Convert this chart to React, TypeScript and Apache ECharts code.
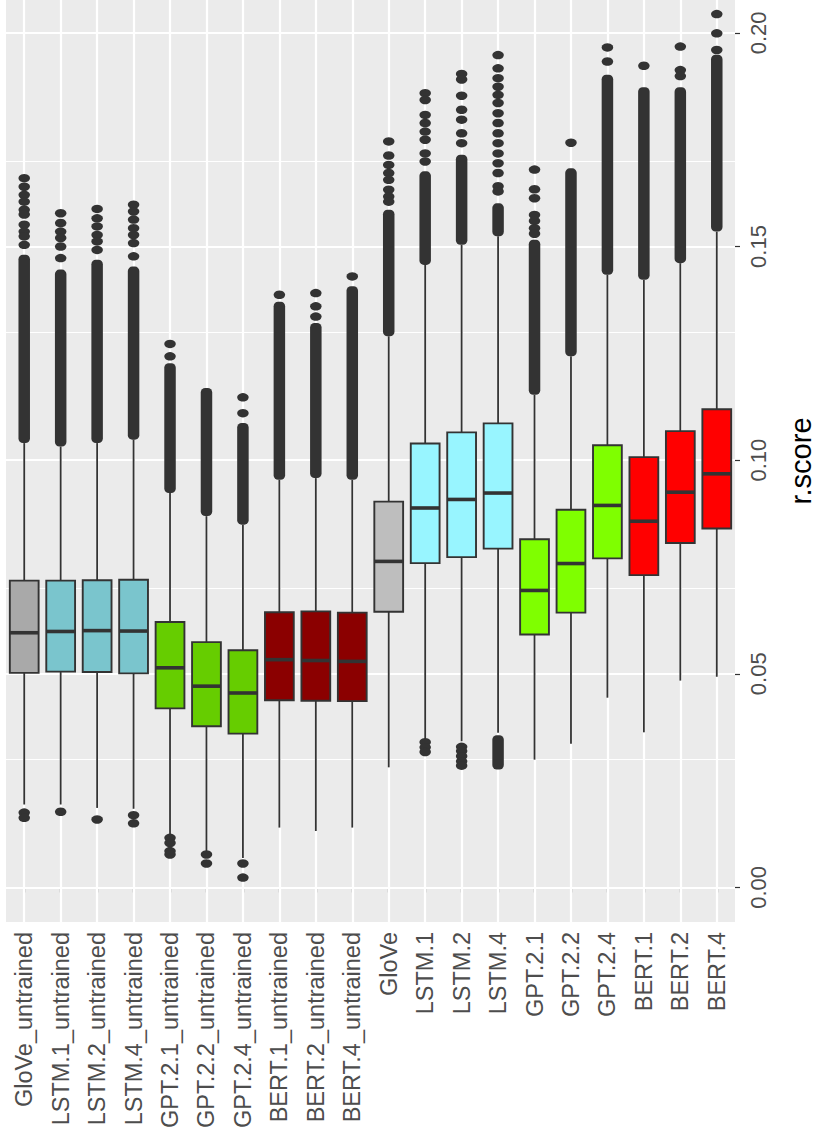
import React, { useEffect, useRef } from "react";
import * as echarts from "echarts";

// Models, in plotting order
const categories = [
  "GloVe_untrained", "LSTM.1_untrained", "LSTM.2_untrained", "LSTM.4_untrained",
  "GPT.2.1_untrained", "GPT.2.2_untrained", "GPT.2.4_untrained",
  "BERT.1_untrained", "BERT.2_untrained", "BERT.4_untrained",
  "GloVe", "LSTM.1", "LSTM.2", "LSTM.4", "GPT.2.1", "GPT.2.2", "GPT.2.4",
  "BERT.1", "BERT.2", "BERT.4",
];

// Box fill per model
const boxColors = [
  "#A9A9A9", "#7AC5CD", "#7AC5CD", "#7AC5CD",
  "#66CD00", "#66CD00", "#66CD00",
  "#8B0000", "#8B0000", "#8B0000",
  "#BEBEBE", "#98F5FF", "#98F5FF", "#98F5FF",
  "#7FFF00", "#7FFF00", "#7FFF00",
  "#FF0000", "#FF0000", "#FF0000",
];

// Five-number summaries of r.score
const whiskerLow = [0.0194, 0.0194, 0.0186, 0.0184, 0.0124, 0.0085, 0.0069, 0.0140, 0.0132, 0.0140, 0.0281, 0.0346, 0.0342, 0.0362, 0.0299, 0.0336, 0.0444, 0.0363, 0.0484, 0.0493];
const q1 = [0.0502, 0.0505, 0.0504, 0.0501, 0.0419, 0.0377, 0.0360, 0.0438, 0.0437, 0.0436, 0.0645, 0.0759, 0.0773, 0.0793, 0.0592, 0.0643, 0.0770, 0.0731, 0.0806, 0.0840];
const median = [0.0596, 0.0599, 0.0601, 0.0600, 0.0514, 0.0471, 0.0455, 0.0533, 0.0531, 0.0529, 0.0763, 0.0888, 0.0908, 0.0923, 0.0695, 0.0758, 0.0894, 0.0857, 0.0925, 0.0968];
const q3 = [0.0718, 0.0718, 0.0719, 0.0720, 0.0621, 0.0574, 0.0555, 0.0644, 0.0646, 0.0643, 0.0903, 0.1039, 0.1065, 0.1086, 0.0815, 0.0884, 0.1035, 0.1007, 0.1068, 0.1119];
const whiskerHigh = [0.1040, 0.1032, 0.1040, 0.1048, 0.0923, 0.0869, 0.0849, 0.0954, 0.0958, 0.0954, 0.1290, 0.1457, 0.1504, 0.1524, 0.1153, 0.1243, 0.1434, 0.1422, 0.1461, 0.1535];

// Stretches where outliers overlap into a solid band: [category index, from, to]
const outlierRuns = [
  [0, 0.1040, 0.1481], [1, 0.1032, 0.1446], [2, 0.1040, 0.1469], [3, 0.1048, 0.1453],
  [4, 0.0923, 0.1227], [5, 0.0869, 0.1169], [6, 0.0849, 0.1087],
  [7, 0.0954, 0.1371], [8, 0.0958, 0.1321], [9, 0.0954, 0.1407],
  [10, 0.1290, 0.1586], [11, 0.1457, 0.1676], [12, 0.1504, 0.1715], [13, 0.1524, 0.1601],
  [13, 0.0276, 0.0356],
  [14, 0.1153, 0.1516], [15, 0.1243, 0.1683], [16, 0.1434, 0.1902],
  [17, 0.1422, 0.1873], [18, 0.1461, 0.1873], [19, 0.1535, 0.1949],
];

// Individual outliers: [category index, r.score]
const outlierPoints = [
  [0, 0.1660], [0, 0.1640], [0, 0.1621], [0, 0.1605], [0, 0.1586], [0, 0.1575], [0, 0.1551], [0, 0.1535], [0, 0.1524], [0, 0.1504],
  [0, 0.0175], [0, 0.0163],
  [1, 0.1578], [1, 0.1555], [1, 0.1535], [1, 0.1520], [1, 0.1500], [1, 0.1473], [1, 0.0177],
  [2, 0.1588], [2, 0.1566], [2, 0.1547], [2, 0.1527], [2, 0.1512], [2, 0.1492], [2, 0.0159],
  [3, 0.1598], [3, 0.1582], [3, 0.1563], [3, 0.1543], [3, 0.1527], [3, 0.1508], [3, 0.1477], [3, 0.0169], [3, 0.0150],
  [4, 0.1272], [4, 0.1243], [4, 0.0116], [4, 0.0104], [4, 0.0085], [4, 0.0077],
  [5, 0.0077], [5, 0.0056],
  [6, 0.1147], [6, 0.1110], [6, 0.0056], [6, 0.0023],
  [7, 0.1387],
  [8, 0.1391], [8, 0.1360], [8, 0.1336],
  [9, 0.1430],
  [10, 0.1746], [10, 0.1713], [10, 0.1691], [10, 0.1672], [10, 0.1656], [10, 0.1633], [10, 0.1617], [10, 0.1605],
  [11, 0.1859], [11, 0.1843], [11, 0.1808], [11, 0.1789], [11, 0.1769], [11, 0.1750], [11, 0.1718], [11, 0.1699],
  [11, 0.0340], [11, 0.0328], [11, 0.0317],
  [12, 0.1904], [12, 0.1891], [12, 0.1853], [12, 0.1820], [12, 0.1797], [12, 0.1765], [12, 0.1742],
  [12, 0.0329], [12, 0.0319], [12, 0.0307], [12, 0.0295], [12, 0.0285],
  [13, 0.1948], [13, 0.1917], [13, 0.1894], [13, 0.1874], [13, 0.1855], [13, 0.1836], [13, 0.1812], [13, 0.1789],
  [13, 0.1765], [13, 0.1742], [13, 0.1718], [13, 0.1695], [13, 0.1672], [13, 0.1641], [13, 0.1629],
  [14, 0.1680], [14, 0.1634], [14, 0.1613], [14, 0.1574], [14, 0.1560], [14, 0.1543], [14, 0.1530],
  [15, 0.1743],
  [16, 0.1966], [16, 0.1933],
  [17, 0.1923],
  [18, 0.1968], [18, 0.1913], [18, 0.1899],
  [19, 0.2044], [19, 0.1999], [19, 0.1960],
];

// Value axis: visible range, labelled ticks and minor grid values
const yMin = -0.0081;
const yMax = 0.2077;
const majorTicks = [0, 0.05, 0.1, 0.15, 0.2];
const minorTicks = [0.025, 0.075, 0.125, 0.175];

const FONT = "'Liberation Sans', Arial, sans-serif";
const INK = "#333333";

export default function App() {
  const ref = useRef<HTMLDivElement>(null);

  useEffect(() => {
    if (!ref.current) return;
    const chart = echarts.init(ref.current, undefined, { renderer: "svg" });

    const boxData = categories.map((_, i) => [i, whiskerLow[i], q1[i], median[i], q3[i], whiskerHigh[i]]);

    const gridLines = [
      ...majorTicks.map((v) => ({ yAxis: v, lineStyle: { width: 2.2 } })),
      ...minorTicks.map((v) => ({ yAxis: v, lineStyle: { width: 1.1 } })),
      ...categories.map((c) => ({ xAxis: c, lineStyle: { width: 2.2 } })),
    ];

    chart.setOption({
      animation: false,
      textStyle: { fontFamily: FONT },
      grid: {
        left: 6,
        right: 78,
        top: 0,
        bottom: 215,
        show: true,
        backgroundColor: "#EBEBEB",
        borderWidth: 0,
      },
      xAxis: {
        type: "category",
        data: categories,
        boundaryGap: true,
        axisLine: { show: false },
        axisTick: { show: true, alignWithLabel: true, length: 5, lineStyle: { color: INK, width: 1.2 } },
        axisLabel: {
          rotate: 90,
          interval: 0,
          fontSize: 23.5,
          color: "#4D4D4D",
          margin: 10,
          fontFamily: FONT,
        },
        splitLine: { show: false },
      },
      yAxis: {
        type: "value",
        position: "right",
        min: yMin,
        max: yMax,
        axisLine: { show: false },
        axisTick: {
          show: true,
          length: 5,
          customValues: majorTicks,
          lineStyle: { color: INK, width: 1.2 },
        },
        axisLabel: {
          customValues: majorTicks,
          rotate: 90,
          fontSize: 22,
          color: "#4D4D4D",
          margin: 12,
          fontFamily: FONT,
          formatter: (v: number) => v.toFixed(2),
        },
        splitLine: { show: false },
        name: "r.score",
        nameLocation: "middle",
        nameRotate: 90,
        nameGap: 51,
        nameTextStyle: { fontSize: 29, color: "#000000", fontFamily: FONT },
      },
      series: [
        {
          // panel grid lines
          type: "line",
          data: [],
          z: 1,
          silent: true,
          markLine: {
            z: 1,
            silent: true,
            symbol: ["none", "none"],
            label: { show: false },
            lineStyle: { color: "#FFFFFF", type: "solid", width: 2 },
            emphasis: { disabled: true },
            data: gridLines,
          },
        },
        {
          // whiskers, boxes and medians
          type: "custom",
          z: 2,
          silent: true,
          data: boxData,
          encode: { x: 0, y: [1, 2, 3, 4, 5] },
          renderItem: (params: any, api: any) => {
            const i = api.value(0);
            const [cx, yLow] = api.coord([i, api.value(1)]);
            const yQ1 = api.coord([i, api.value(2)])[1];
            const yMed = api.coord([i, api.value(3)])[1];
            const yQ3 = api.coord([i, api.value(4)])[1];
            const yHigh = api.coord([i, api.value(5)])[1];
            const bw = api.size([1, 0])[0] * 0.79;
            const line = { stroke: INK, lineWidth: 1.8 };
            return {
              type: "group",
              children: [
                { type: "line", shape: { x1: cx, y1: yLow, x2: cx, y2: yQ1 }, style: line },
                { type: "line", shape: { x1: cx, y1: yQ3, x2: cx, y2: yHigh }, style: line },
                {
                  type: "rect",
                  shape: { x: cx - bw / 2, y: yQ3, width: bw, height: yQ1 - yQ3 },
                  style: { fill: boxColors[i], stroke: INK, lineWidth: 1.9 },
                },
                {
                  type: "line",
                  shape: { x1: cx - bw / 2, y1: yMed, x2: cx + bw / 2, y2: yMed },
                  style: { stroke: INK, lineWidth: 3.6 },
                },
              ],
            };
          },
        },
        {
          // overlapping outliers
          type: "custom",
          z: 3,
          silent: true,
          data: outlierRuns,
          encode: { x: 0, y: [1, 2] },
          renderItem: (params: any, api: any) => {
            const i = api.value(0);
            const [cx, yLo] = api.coord([i, api.value(1)]);
            const yHi = api.coord([i, api.value(2)])[1];
            return {
              type: "rect",
              shape: { x: cx - 5.75, y: yHi, width: 11.5, height: yLo - yHi, r: 4.5 },
              style: { fill: INK },
            };
          },
        },
        {
          // single outliers
          type: "scatter",
          z: 4,
          silent: true,
          data: outlierPoints,
          symbol: "circle",
          symbolSize: [11.5, 8.5],
          itemStyle: { color: INK, opacity: 1 },
        },
      ],
    });

    return () => chart.dispose();
  }, []);

  return (
    <div
      ref={ref}
      style={{ position: "absolute", left: 0, top: 0, width: 823, height: 1137 }}
    />
  );
}
